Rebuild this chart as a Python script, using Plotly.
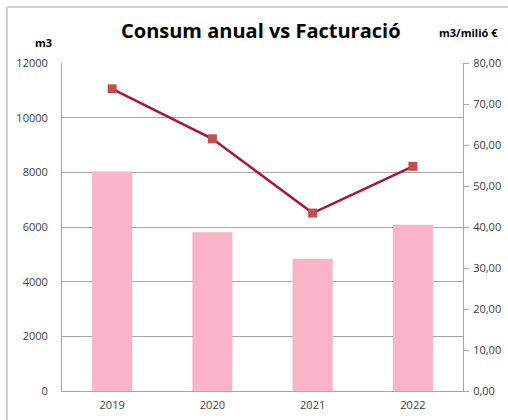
import plotly.graph_objects as go

years = ["2019", "2020", "2021", "2022"]
consum_m3 = [8030, 5810, 4840, 6080]
ratio_m3_milio = [73.7, 61.5, 43.4, 54.8]
left_ticks = [0, 2000, 4000, 6000, 8000, 10000, 12000]
right_ticks = [0, 10, 20, 30, 40, 50, 60, 70, 80]
right_labels = [f"{v:.2f}".replace(".", ",") for v in right_ticks]

FONT = "Open Sans"
L, R, T, B = 62, 45, 63, 29
W, H = 508, 420
pw, ph = W - L - R, H - T - B

fig = go.Figure()
fig.add_trace(go.Bar(x=years, y=consum_m3, marker=dict(color="#F9B5C7", line=dict(width=0)),
                     width=0.4, yaxis="y", showlegend=False))
fig.add_trace(go.Scatter(x=years, y=ratio_m3_milio, yaxis="y2", mode="lines+markers",
                         line=dict(color="#A8153A", width=2.5),
                         marker=dict(symbol="square", size=9, color="#C0504D"),
                         showlegend=False))

fig.update_layout(
    width=W, height=H,
    margin=dict(l=L, r=R, t=T, b=B, pad=0, autoexpand=False),
    paper_bgcolor="white", plot_bgcolor="white",
    font=dict(family=FONT, size=11, color="#404040"),
    bargap=0.6,
    xaxis=dict(type="category", showgrid=False, showline=True, linecolor="#A6A6A6", linewidth=1,
               ticks="", tickfont=dict(size=11, color="#404040"), range=[-0.5, 3.5],
               automargin=False, ticklabelstandoff=4),
    yaxis=dict(range=[0, 12000], tickvals=left_ticks, ticktext=[str(v) for v in left_ticks],
               showgrid=True, gridcolor="#A6A6A6", gridwidth=1, showline=True, linecolor="#A6A6A6",
               ticks="", ticklabelstandoff=11, zeroline=False, automargin=False),
    yaxis2=dict(range=[0, 80], tickvals=right_ticks, ticktext=right_labels, overlaying="y", side="right",
                showgrid=False, showline=True, linecolor="#A6A6A6", ticks="outside", ticklen=5,
                tickcolor="#A6A6A6", zeroline=False, automargin=False, ticklabelstandoff=2),
    annotations=[
        dict(text="<b>Consum anual vs Facturació</b>", xref="paper", yref="paper",
             x=(261 - L) / pw, y=(H - B - 30) / ph, xanchor="center", yanchor="middle",
             showarrow=False, font=dict(family=FONT, size=20, color="black")),
        dict(text="<b>m3</b>", xref="paper", yref="paper",
             x=(43 - L) / pw, y=(H - B - 42) / ph, xanchor="center", yanchor="middle",
             showarrow=False, font=dict(family=FONT, size=11, color="black")),
        dict(text="<b>m3/milió €</b>", xref="paper", yref="paper",
             x=(468 - L) / pw, y=(H - B - 32) / ph, xanchor="center", yanchor="middle",
             showarrow=False, font=dict(family=FONT, size=11, color="black")),
    ],
    shapes=[
        dict(type="line", xref="paper", yref="paper", x0=(7 - L) / pw, x1=(W - L) / pw,
             y0=(H - B - 7) / ph, y1=(H - B - 7) / ph, line=dict(color="#D0D0D0", width=2)),
        dict(type="line", xref="paper", yref="paper", x0=(7 - L) / pw, x1=(7 - L) / pw,
             y0=(H - B - 7) / ph, y1=-B / ph, line=dict(color="#D0D0D0", width=2)),
    ],
)

fig.write_html("out.html", config={"displayModeBar": False},
               post_script="document.body.style.margin='0';document.body.style.overflow='hidden';")
